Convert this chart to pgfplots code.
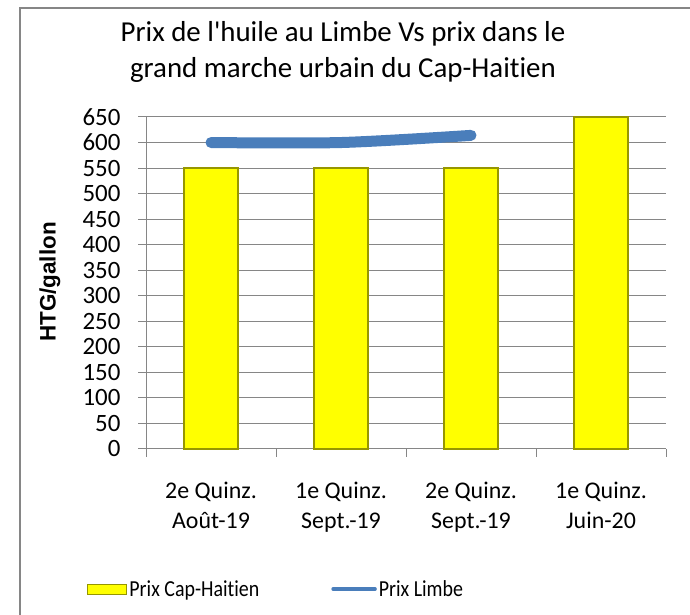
\documentclass[border=0pt]{standalone}
\usepackage{pgfplots}
\pgfplotsset{compat=1.18}
\usepackage{fontspec}
\setmainfont{Carlito}[Ligatures={TeX,NoCommon}]
\newfontfamily\arialb{Liberation Sans}
\definecolor{barfill}{RGB}{255,255,0}
\definecolor{bardraw}{RGB}{150,150,0}
\definecolor{linec}{RGB}{74,126,187}
\definecolor{gridc}{RGB}{134,134,134}
\begin{document}
\begin{tikzpicture}[x=1bp,y=1bp]
\useasboundingbox (0,0) rectangle (690,615);
\begin{scope}
\clip (0,0) rectangle (690,615);
\draw[gridc, line width=2bp] (20,-10) -- (20,607) -- (700,607);
\end{scope}
\node[font=\fontsize{29}{36}\selectfont, align=center] at (343,563) {Prix de l\textquotesingle huile au Limbe Vs prix dans le\\grand marche urbain du Cap-Haitien};
\node[font=\fontsize{22.5}{24}\selectfont\arialb\bfseries, rotate=90] at (50,333) {HTG/gallon};
\begin{axis}[
  at={(146bp,166bp)}, anchor=south west,
  scale only axis, width=520bp, height=332bp,
  xmin=-0.5, xmax=3.5, ymin=0, ymax=650,
  axis x line*=bottom, axis y line*=left,
  separate axis lines,
  x axis line style={-}, y axis line style={-},
  ytick={0,50,...,650},
  xtick={0,1,2,3},
  xticklabels={{2e Quinz.\\Août-19},{1e Quinz.\\Sept.-19},{2e Quinz.\\Sept.-19},{1e Quinz.\\Juin-20}},
  minor xtick={-0.5,0.5,1.5,2.5,3.5},
  major x tick style={draw=none},
  minor x tick style={gridc, line width=1bp},
  y tick style={gridc, line width=1bp},
  tick align=outside,
  major tick length=8bp, minor tick length=8bp,
  ymajorgrids, grid style={gridc, line width=1bp},
  axis line style={gridc, line width=1bp},
  /pgf/number format/assume math mode=true,
  yticklabel shift=14bp,
  every y tick label/.append style={font=\fontsize{25}{25}\selectfont},
  xticklabel style={align=center, font=\fontsize{24}{30}\selectfont, yshift=-22bp},
  clip=false,
  legend columns=2,
  legend style={at={(-0.113,-0.422)}, anchor=west, draw=none, fill=none,
    font=\fontsize{23}{24}\selectfont, /tikz/every even column/.append style={column sep=70bp},
    inner sep=0pt, row sep=0pt},
]
\addplot[ybar, bar width=54bp, fill=barfill, draw=bardraw, line width=1.5bp,
  legend image code/.code={\draw[fill=barfill, draw=bardraw, line width=1bp] (0bp,-5bp) rectangle (39bp,5bp);}]
  coordinates {(0,550) (1,550) (2,550) (3,650)};
\addlegendentry{\scalebox{0.87}[1]{Prix Cap-Haitien}}
\addplot[smooth, color=linec, line width=11bp, line cap=round,
  legend image code/.code={\draw[linec, line width=3.5bp, line cap=round] (0bp,0bp) -- (42bp,0bp);}]
  coordinates {(0,600) (1,600) (2,614)};
\addlegendentry{\scalebox{0.87}[1]{Prix Limbe}}
\end{axis}
\end{tikzpicture}
\end{document}
